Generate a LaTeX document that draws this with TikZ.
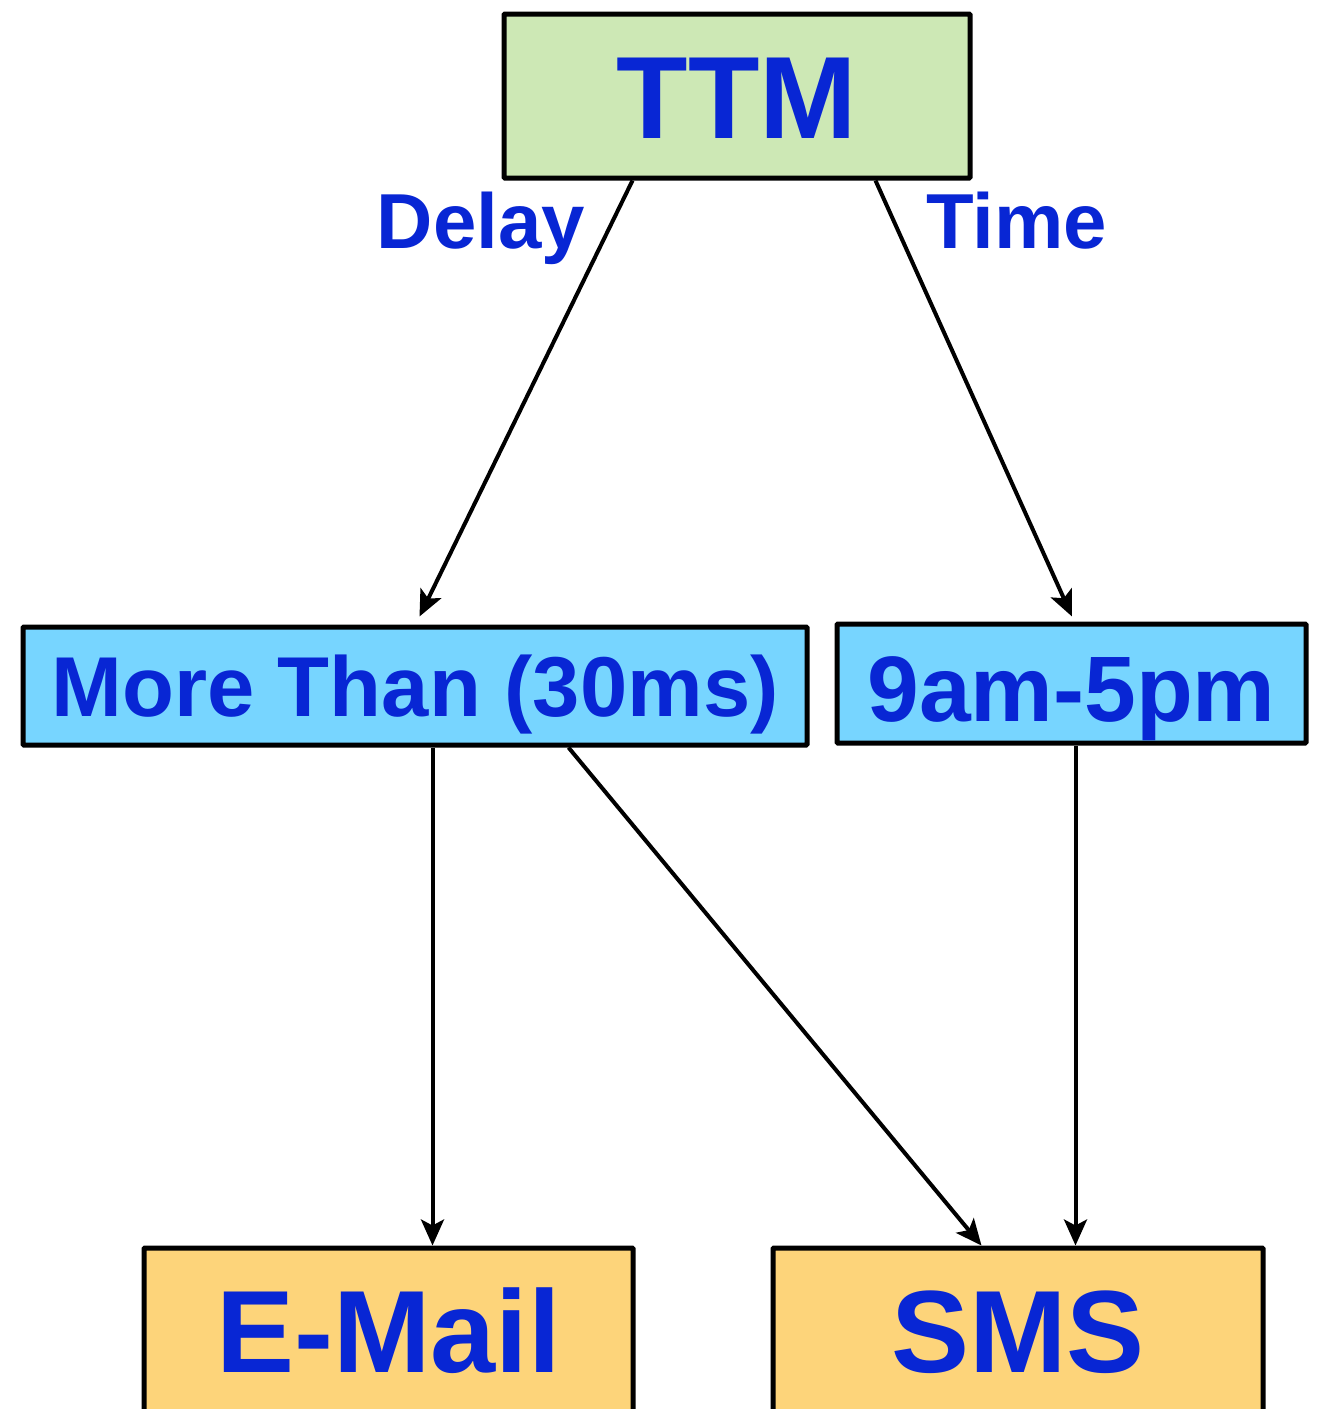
\documentclass[tikz,border=0pt]{standalone}
\usepackage{fontspec}
\setmainfont{Liberation Sans}
\usetikzlibrary{arrows.meta}
\definecolor{txtblue}{RGB}{8,38,212}
\definecolor{ttmgreen}{RGB}{205,232,181}
\definecolor{boxblue}{RGB}{119,213,255}
\definecolor{boxorange}{RGB}{253,212,122}
\tikzset{
  box/.style={draw=black, line width=5pt, rounded corners=1pt, inner sep=0pt,
    text=txtblue, font=\bfseries, text depth=0pt},
  big/.style={font=\fontsize{117}{130}\selectfont\bfseries, text height=84pt},
  mid/.style={font=\fontsize{85}{95}\selectfont\bfseries, text height=61pt},
  midb/.style={font=\fontsize{93}{100}\selectfont\bfseries, text height=75pt},
  lbl/.style={text=txtblue, font=\fontsize{78}{90}\selectfont\bfseries, inner sep=0pt, anchor=base},
  conn/.style={draw=black, line width=4pt, -{Stealth[length=26pt, width=23pt, inset=6pt]}},
}
\begin{document}
\begin{tikzpicture}[x=1pt, y=-1pt]
\useasboundingbox (0,0) rectangle (1321,1409);
\clip (0,0) rectangle (1321,1409);
\node[box, big, fill=ttmgreen, minimum width=466pt, minimum height=164pt] (ttm) at (737,96) {TTM};
\node[box, mid, fill=boxblue, minimum width=784pt, minimum height=118pt] (more) at (415,686) {More Than (30ms)};
\node[box, midb, fill=boxblue, minimum width=469pt, minimum height=119pt] (nine) at (1071.5,683.5) {9am-5pm};
\node[box, big, fill=boxorange, minimum width=489pt, minimum height=164pt] (mail) at (388.5,1330) {E-Mail};
\node[box, big, fill=boxorange, minimum width=490pt, minimum height=164pt] (sms) at (1018,1330) {SMS};
\node[lbl] (delay) at (481,248) {Delay};
\node[lbl] (time) at (1017,248) {Time};
\draw[conn] ([xshift=131pt]ttm.south west) -- ([xshift=399pt, yshift=8pt]more.north west);
\draw[conn] ([xshift=374pt]ttm.south west) -- ([xshift=0.5pt, yshift=5pt]nine.north);
\draw[conn] ([xshift=412pt]more.south west) -- ([xshift=291pt]mail.north west);
\draw[conn] ([xshift=548pt]more.south west) -- ([xshift=211pt]sms.north west);
\draw[conn] ([xshift=241pt]nine.south west) -- ([xshift=305pt]sms.north west);
\end{tikzpicture}
\end{document}
